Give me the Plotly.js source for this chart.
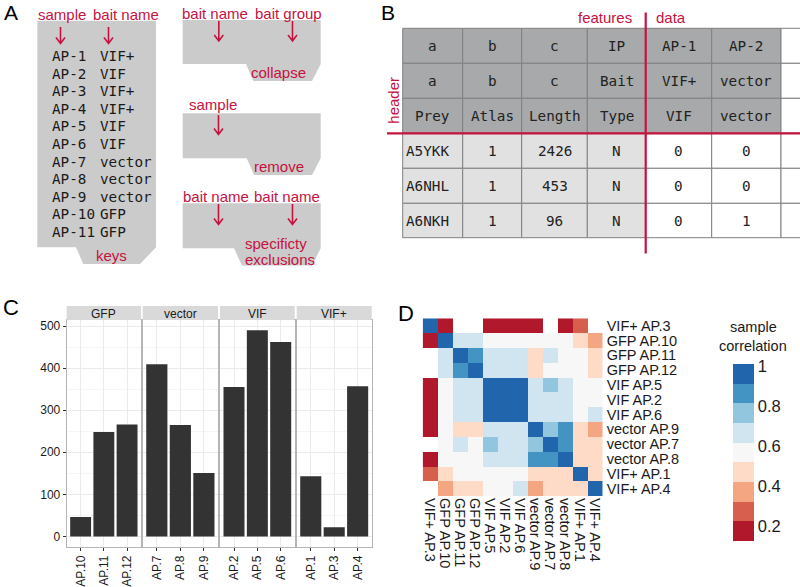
<!DOCTYPE html>
<html><head><meta charset="utf-8">
<script src="https://cdn.plot.ly/plotly-3.0.1.min.js"></script>
<style>html,body{margin:0;padding:0;background:#fff}#chart{width:800px;height:587px}</style>
</head><body><div id="chart"></div>
<script>
// ---------- Panel C data ----------
const facetNames = ['GFP', 'vector', 'VIF', 'VIF+'];
const gfpSamples = ['AP.10', 'AP.11', 'AP.12'];
const gfpCounts = [46, 248, 266];
const vectorSamples = ['AP.7', 'AP.8', 'AP.9'];
const vectorCounts = [409, 265, 151];
const vifSamples = ['AP.2', 'AP.5', 'AP.6'];
const vifCounts = [355, 490, 462];
const vifPlusSamples = ['AP.1', 'AP.3', 'AP.4'];
const vifPlusCounts = [143, 22, 357];
const countTicks = [0, 100, 200, 300, 400, 500];

// ---------- Panel D data ----------
const corrLabels = ['VIF+ AP.3', 'GFP AP.10', 'GFP AP.11', 'GFP AP.12', 'VIF AP.5', 'VIF AP.2',
  'VIF AP.6', 'vector AP.9', 'vector AP.7', 'vector AP.8', 'VIF+ AP.1', 'VIF+ AP.4'];
const corrMatrix = [
  [1, 0.16, null, null, 0.18, 0.17, 0.18, 0.19, null, 0.15, 0.27, null],
  [0.16, 1, 0.64, 0.65, 0.58, 0.59, 0.58, 0.56, 0.57, 0.57, 0.47, 0.38],
  [null, 0.64, 1, 0.86, 0.66, 0.67, 0.66, 0.50, 0.64, 0.60, 0.59, 0.48],
  [null, 0.65, 0.86, 1, 0.67, 0.66, 0.66, 0.49, 0.58, 0.59, 0.60, 0.47],
  [0.18, 0.58, 0.66, 0.67, 1, 0.97, 0.96, 0.66, 0.74, 0.65, 0.58, 0.57],
  [0.17, 0.59, 0.67, 0.66, 0.97, 1, 0.98, 0.67, 0.66, 0.66, 0.59, 0.60],
  [0.18, 0.58, 0.66, 0.66, 0.96, 0.98, 1, 0.65, 0.66, 0.66, 0.58, 0.63],
  [0.19, 0.56, 0.50, 0.49, 0.66, 0.67, 0.65, 1, 0.76, 0.84, 0.46, 0.38],
  [null, 0.57, 0.64, 0.58, 0.74, 0.66, 0.66, 0.76, 1, 0.85, 0.47, 0.46],
  [0.15, 0.57, 0.60, 0.59, 0.65, 0.66, 0.66, 0.84, 0.85, 1, 0.48, 0.47],
  [0.27, 0.47, 0.59, 0.60, 0.58, 0.59, 0.58, 0.46, 0.47, 0.48, 1, 0.45],
  [null, 0.38, 0.48, 0.47, 0.57, 0.60, 0.63, 0.38, 0.46, 0.47, 0.45, 1]
];
const corrTicks = [0.2, 0.4, 0.6, 0.8, 1];
const corrColors = ['#b2182b', '#d6604d', '#f4a582', '#fddbc7', '#f7f7f7', '#d1e5f0', '#92c5de', '#4393c3', '#2166ac'];

// ---------- Panel A data ----------
const keySamples = ['AP-1', 'AP-2', 'AP-3', 'AP-4', 'AP-5', 'AP-6', 'AP-7', 'AP-8', 'AP-9', 'AP-10', 'AP-11'];
const keyBaits = ['VIF+', 'VIF', 'VIF+', 'VIF+', 'VIF', 'VIF', 'vector', 'vector', 'vector', 'GFP', 'GFP'];

// ---------- Panel B data ----------
const tableRows = [
  ['a', 'b', 'c', 'IP', 'AP-1', 'AP-2'],
  ['a', 'b', 'c', 'Bait', 'VIF+', 'vector'],
  ['Prey', 'Atlas', 'Length', 'Type', 'VIF', 'vector'],
  ['A5YKK', '1', '2426', 'N', '0', '0'],
  ['A6NHL', '1', '453', 'N', '0', '0'],
  ['A6NKH', '1', '96', 'N', '0', '1']
];

// ---------- helpers ----------
const W = 800, H = 587;
const RED = '#c5123f';
const SANS = '"Liberation Sans", Arial, sans-serif';
const MONO = '"DejaVu Sans Mono", monospace';
const px = x => x / W;
const py = y => 1 - y / H;
const shapes = [];
const annotations = [];
function txt(t, x, y, o) {
  o = o || {};
  annotations.push({
    text: t, x: px(x), y: py(y), xref: 'paper', yref: 'paper', showarrow: false,
    xanchor: o.xanchor || 'center', yanchor: o.yanchor || 'middle',
    textangle: o.angle || 0,
    font: { family: o.family || SANS, size: o.size || 15, color: o.color || RED }
  });
}
function poly(pts, fill) {
  const d = pts.map((p, i) => (i ? 'L' : 'M') + px(p[0]).toFixed(5) + ',' + py(p[1]).toFixed(5)).join(' ') + ' Z';
  shapes.push({ type: 'path', xref: 'paper', yref: 'paper', path: d, fillcolor: fill, line: { width: 0 } });
}
function rect(x0, y0, x1, y1, fill, lineColor, lw) {
  shapes.push({ type: 'rect', xref: 'paper', yref: 'paper', x0: px(x0), x1: px(x1), y0: py(y1), y1: py(y0),
    fillcolor: fill, line: { color: lineColor || 'rgba(0,0,0,0)', width: lw === undefined ? 1 : lw } });
}
function line(x0, y0, x1, y1, color, w) {
  shapes.push({ type: 'line', xref: 'paper', yref: 'paper', x0: px(x0), x1: px(x1), y0: py(y0), y1: py(y1),
    line: { color: color, width: w } });
}
function arrow(x, y1, y2) {
  const d = 'M' + px(x) + ',' + py(y1) + ' L' + px(x) + ',' + py(y2) +
    ' M' + px(x - 4.5) + ',' + py(y2 - 6) + ' L' + px(x) + ',' + py(y2) + ' L' + px(x + 4.5) + ',' + py(y2 - 6);
  shapes.push({ type: 'path', xref: 'paper', yref: 'paper', path: d, line: { color: RED, width: 1.6 } });
}

// ---------- Panel A ----------
const GREYBOX = '#cbcbcb';
poly([[37.3, 20.7], [156, 20.7], [156, 247.3], [140, 264], [83.3, 264], [76, 247.3], [37.3, 247.3]], GREYBOX);
poly([[182.7, 20], [320.7, 20], [320.7, 64], [312, 81], [253.3, 81], [246, 64], [182.7, 64]], GREYBOX);
poly([[182.7, 113.3], [320.7, 113.3], [320.7, 158.3], [312, 175], [254, 175], [246.7, 158.3], [182.7, 158.3]], GREYBOX);
poly([[182.7, 203.3], [320.7, 203.3], [320.7, 248.3], [312, 265.5], [242, 265.5], [234, 248.3], [182.7, 248.3]], GREYBOX);
txt('sample', 62, 14.5); txt('bait name', 126, 14.5);
arrow(60.5, 27, 43.5); arrow(108.5, 27, 43.5);
keySamples.forEach((s, i) => {
  txt(s, 50, 56 + i * 17.6, { xanchor: 'left', family: MONO, size: 14.3, color: '#1a1a1a' });
  txt(keyBaits[i], 98, 56 + i * 17.6, { xanchor: 'left', family: MONO, size: 14.3, color: '#1a1a1a' });
});
txt('keys', 111, 255.5);
txt('bait name', 215, 13); txt('bait group', 288.5, 13);
arrow(218.8, 21, 41); arrow(292.5, 21, 41);
txt('collapse', 278, 72.5);
txt('sample', 213, 104);
arrow(218.5, 115, 134.5);
txt('remove', 279, 166);
txt('bait name', 216, 197); txt('bait name', 287, 197);
arrow(218.5, 204, 224.5); arrow(292.5, 204, 224.5);
txt('specificty', 242.7, 243.5, { xanchor: 'left' });
txt('exclusions', 242.7, 259.3, { xanchor: 'left' });

// ---------- Panel B ----------
const colEdges = [402.7, 462.7, 521.7, 587.3, 645.7, 711.7, 781];
const rowEdges = [28.3, 63.3, 98.3, 133.3, 168.3, 203.3, 237.7];
for (let r = 0; r < 6; r++) {
  for (let c = 0; c < 6; c++) {
    const fill = r < 3 ? '#a7a9aa' : (c < 4 ? '#e1e1e1' : '#ffffff');
    rect(colEdges[c], rowEdges[r], colEdges[c + 1], rowEdges[r + 1], fill, '#808080', 1);
  }
  rect(781, rowEdges[r], 805, rowEdges[r + 1], '#ffffff', '#808080', 1);
}
for (let r = 0; r < 6; r++) {
  for (let c = 0; c < 6; c++) {
    const yc = (rowEdges[r] + rowEdges[r + 1]) / 2;
    if (r >= 3 && c === 0) {
      txt(tableRows[r][c], colEdges[0] + 1.5, yc, { xanchor: 'left', family: MONO, size: 14.3, color: '#222' });
    } else {
      txt(tableRows[r][c], (colEdges[c] + colEdges[c + 1]) / 2, yc, { family: MONO, size: 14.3, color: '#222' });
    }
  }
}
line(387, 133.3, 800, 133.3, RED, 2.2);
line(645.7, 12.5, 645.7, 253.5, RED, 2.2);
txt('features', 634, 17.5, { xanchor: 'right' });
txt('data', 654, 17.5, { xanchor: 'left' });
txt('header', 392.7, 100, { angle: -90 });

// ---------- Panel labels ----------
txt('A', 10.5, 12, { size: 21, color: '#000' });
txt('B', 388, 12, { size: 21, color: '#000' });
txt('C', 11, 307, { size: 22, color: '#000' });
txt('D', 406, 313, { size: 22, color: '#000' });

// ---------- Panel C ----------
const facetPx = [[66.7, 141], [142.7, 218], [220, 294.7], [296.7, 371.7]];
const plotTop = 320, plotBottom = 546.7;
const facetX = [gfpSamples, vectorSamples, vifSamples, vifPlusSamples];
const facetY = [gfpCounts, vectorCounts, vifCounts, vifPlusCounts];
const data = [];
const layout = {
  width: W, height: H, margin: { l: 0, r: 0, t: 0, b: 0 }, autosize: false,
  paper_bgcolor: '#fff', plot_bgcolor: '#fff', showlegend: false, bargap: 0.1,
  font: { family: SANS, color: '#1a1a1a' }
};
const BORDER = '#b5b5b5';
facetNames.forEach((name, i) => {
  const sfx = i === 0 ? '' : String(i + 1);
  data.push({ type: 'bar', x: facetX[i], y: facetY[i], xaxis: 'x' + sfx, yaxis: 'y' + sfx,
    marker: { color: '#333333', line: { width: 0 } }, hoverinfo: 'x+y' });
  layout['xaxis' + sfx] = {
    domain: [px(facetPx[i][0]), px(facetPx[i][1])], anchor: 'y' + sfx, type: 'category',
    range: [-0.6, 2.6], showline: true, mirror: true, linecolor: BORDER, linewidth: 1,
    showgrid: true, gridcolor: '#ebebeb', zeroline: false, ticks: 'outside', ticklen: 3,
    tickcolor: '#333', tickangle: -90, tickfont: { size: 12, color: '#1a1a1a', family: SANS }, fixedrange: true
  };
  layout['yaxis' + sfx] = {
    domain: [py(plotBottom), py(plotTop)], anchor: 'x' + sfx, range: [-24.5, 514.5],
    showline: true, mirror: true, linecolor: BORDER, linewidth: 1, zeroline: false,
    showgrid: true, gridcolor: '#ebebeb', tickmode: 'array', tickvals: countTicks,
    minor: { tickvals: [50, 150, 250, 350, 450], showgrid: true, gridcolor: '#f5f5f5' },
    showticklabels: i === 0, ticks: i === 0 ? 'outside' : '', ticklen: 3, tickcolor: '#333',
    tickfont: { size: 12, color: '#1a1a1a', family: SANS }, fixedrange: true
  };
  rect(facetPx[i][0], 306, facetPx[i][1], plotTop, '#d9d9d9', null, 0);
  txt(name, (facetPx[i][0] + facetPx[i][1]) / 2, 313.5, { size: 12, color: '#1a1a1a' });
});

// ---------- Panel D ----------
const zmin = 0.1275, zmax = 1.0125;
const cs = [];
corrColors.forEach((c, k) => { cs.push([k / 9, c]); cs.push([(k + 1) / 9, c]); });
data.push({
  type: 'heatmap', x: corrLabels, y: corrLabels, z: corrMatrix, xaxis: 'x5', yaxis: 'y5',
  zmin: zmin, zmax: zmax, colorscale: cs, xgap: 0, ygap: 0, hoverongaps: false,
  colorbar: {
    x: px(733), xanchor: 'left', xpad: 0, ypad: 0, y: py(452.5), yanchor: 'middle',
    len: 177, lenmode: 'pixels', thickness: 21, thicknessmode: 'pixels', outlinewidth: 0,
    tickmode: 'array', tickvals: corrTicks, ticktext: corrTicks.map(String), ticks: '',
    tickfont: { size: 16.5, color: '#1a1a1a', family: SANS }
  }
});
layout.xaxis5 = {
  domain: [px(422.7), px(602.7)], anchor: 'y5', type: 'category', categoryorder: 'array',
  categoryarray: corrLabels, tickmode: 'array', tickvals: corrLabels, ticktext: corrLabels,
  tickangle: 90, showgrid: false, zeroline: false, showline: false, ticklabelstandoff: 1,
  ticks: '', tickfont: { size: 14.5, color: '#1a1a1a', family: SANS }, fixedrange: true
};
layout.yaxis5 = {
  domain: [py(496), py(318.3)], anchor: 'x5', type: 'category', categoryorder: 'array',
  categoryarray: corrLabels, tickmode: 'array', tickvals: corrLabels, ticktext: corrLabels,
  autorange: 'reversed', side: 'right', showgrid: false, zeroline: false, ticklabelstandoff: 3,
  showline: false, ticks: '', tickfont: { size: 14.5, color: '#1a1a1a', family: SANS }, fixedrange: true
};
txt('sample', 753, 327, { size: 14.5, color: '#1a1a1a' });
txt('correlation', 753, 345.5, { size: 14.5, color: '#1a1a1a' });

layout.shapes = shapes;
layout.annotations = annotations;
Plotly.newPlot('chart', data, layout, { displayModeBar: false, staticPlot: true });
</script></body></html>
